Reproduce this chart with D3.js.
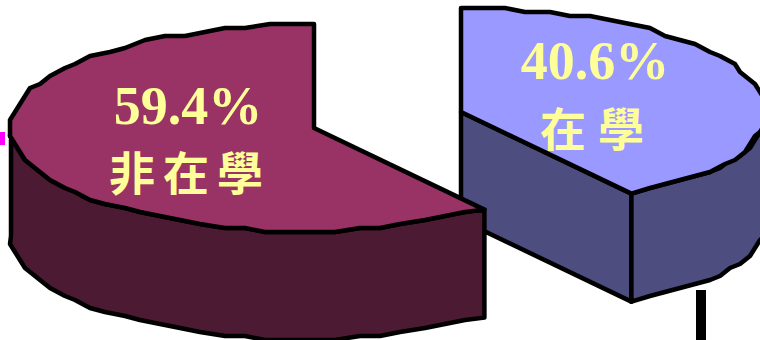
<!DOCTYPE html>
<html>
<head>
<meta charset="utf-8">
<script src="https://cdn.jsdelivr.net/npm/d3@7/dist/d3.min.js"></script>
<style>
html,body{margin:0;padding:0;background:#fff;overflow:hidden}
svg{display:block}
</style>
</head>
<body>
<svg id="chart" width="760" height="340"></svg>
<script>
// Enrolment share, drawn as an exploded 3D pie
const categories = ["非在學", "在學"];
const shares = [59.4, 40.6];
const shareLabels = ["59.4%", "40.6%"];
const topColors = ["#993366", "#9999ff"];
const sideColors = ["#4d1a33", "#4d4d80"];

const rxLeft = 303, rxRight = 306, ry = 104, depth = 108;
const centers = [{x: 314, y: 128}, {x: 461, y: 112}];
const svg = d3.select("#chart");

// Slice angles: the enrolled slice runs clockwise from 12 o'clock
const arcs = d3.pie().sort(null).value(d => d)
  .startAngle(2 * Math.PI).endAngle(0)(shares);

const unit = d3.scaleLinear().domain([-1, 1]);
const pxL = unit.copy().range([-rxLeft, rxLeft]);
const pxR = unit.copy().range([-rxRight, rxRight]);
const py = unit.copy().range([ry, -ry]);
const snap = (v, s) => Math.round(v / s) * s;

// The rim flattens slightly around the cut between the two slices
const cutAngle = Math.max(arcs[1].startAngle, arcs[1].endAngle);
const flatten = a => 1 - 0.055 * Math.exp(-Math.pow((a - cutAngle) / 0.42, 2));

function project(c, a) {
  const s = Math.sin(a);
  return [c.x + (s < 0 ? pxL(s) : pxR(s)), c.y + (py(Math.cos(a))) * flatten(a)];
}

// Rim points are coarse, which gives the edge its faceted look
function rim(c, a0, a1, drop = 0) {
  const n = Math.max(2, Math.ceil(Math.abs(a1 - a0) / 0.075));
  return d3.range(n + 1).map(i => {
    const a = a0 + (a1 - a0) * i / n;
    const edge = i === 0 || i === n;
    const [x, y] = project(c, a);
    return [edge ? x : snap(x, 5), (edge ? y : snap(y, 4)) + drop];
  });
}
const line = d3.line();
const stroke = sel => sel.attr("stroke", "#000").attr("stroke-width", 4.5)
  .attr("stroke-linejoin", "round").attr("stroke-linecap", "round");

function drawSlice(i) {
  const c = centers[i], d = arcs[i];
  const lo = Math.min(d.startAngle, d.endAngle), hi = Math.max(d.startAngle, d.endAngle);
  const g = svg.append("g");
  // Outer wall on the near half of the rim (angles between 90° and 270°)
  const wallLo = Math.max(lo, Math.PI / 2), wallHi = Math.min(hi, 1.5 * Math.PI);
  const upper = rim(c, wallLo, wallHi);
  const lower = rim(c, wallLo, wallHi, depth);
  // The cut face is only visible on the enrolled slice
  if (i === 1) {
    const corner = project(c, hi);
    g.append("path")
      .attr("d", line([[c.x, c.y], corner, [corner[0], corner[1] + depth], [c.x, c.y + depth]]) + "Z")
      .attr("fill", sideColors[i]).call(stroke);
  }
  g.append("path")
    .attr("d", line(upper.concat(lower.reverse())) + "Z")
    .attr("fill", sideColors[i]).call(stroke);
  // Top face
  g.append("path")
    .attr("d", line([[c.x, c.y]].concat(rim(c, lo, hi))) + "Z")
    .attr("fill", topColors[i]).call(stroke);
}

drawSlice(1);
drawSlice(0);

// Small fragments clipped at the frame edges
svg.append("rect").attr("x", 0).attr("y", 132).attr("width", 5).attr("height", 13).attr("fill", "#ff00ff");
svg.append("rect").attr("x", 696).attr("y", 290).attr("width", 10).attr("height", 50).attr("fill", "#000");

// Labels
const labelPos = [
  {x: 188, pct: 124, nameX: 190, name: 190, gap: 8},
  {x: 595, pct: 79, nameX: 598, name: 146, gap: 12}
];
labelPos.forEach((p, i) => {
  svg.append("text").text(shareLabels[i])
    .attr("x", p.x).attr("y", p.pct).attr("text-anchor", "middle")
    .attr("font-family", "'Liberation Serif', serif").attr("font-weight", 700)
    .attr("font-size", 54).attr("fill", "#ffff99");
  svg.append("text").text(categories[i])
    .attr("x", p.nameX).attr("y", p.name).attr("text-anchor", "middle")
    .attr("font-family", "'Noto Sans CJK TC', sans-serif").attr("font-weight", 700)
    .attr("font-size", 46).attr("letter-spacing", p.gap).attr("fill", "#ffff99");
});
</script>
</body>
</html>
